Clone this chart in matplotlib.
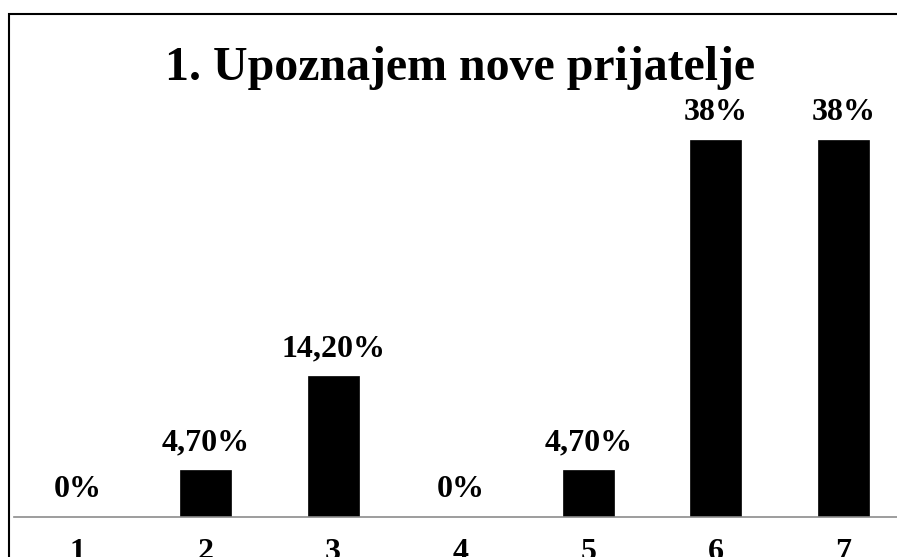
import matplotlib
matplotlib.use("Agg")
import matplotlib.pyplot as plt
from matplotlib.patches import Rectangle

categories = ["1", "2", "3", "4", "5", "6", "7"]
values = [0, 4.7, 14.2, 0, 4.7, 38, 38]
value_labels = ["0%", "4,70%", "14,20%", "0%", "4,70%", "38%", "38%"]
title = "1. Upoznajem nove prijatelje"

W, H = 897, 557
DPI = 100
plt.rcParams['font.family'] = ['Liberation Serif', 'DejaVu Serif']
plt.rcParams['font.weight'] = 'bold'

fig = plt.figure(figsize=(W / DPI, H / DPI), dpi=DPI)

# axes in pixel geometry
ax_left_px, ax_right_px = 14, 907.3
base_px = 517
ymax = 40
px_per_unit = (517 - 140) / 38.0
ax_top_px = base_px - ymax * px_per_unit
ax = fig.add_axes([ax_left_px / W, (H - base_px) / H,
                   (ax_right_px - ax_left_px) / W, (base_px - ax_top_px) / H])

x = list(range(len(categories)))
ax.bar(x, values, width=0.4, color='black', edgecolor='black', linewidth=0.5)
ax.set_xlim(-0.5, len(categories) - 0.5)
ax.set_ylim(0, ymax)

for xi, v, lab in zip(x, values, value_labels):
    ax.annotate(lab, xy=(xi, v), xytext=(0, 20), textcoords='offset pixels',
                ha='center', va='baseline', fontsize=23, fontweight='bold',
                annotation_clip=False)

for s in ['top', 'right', 'left']:
    ax.spines[s].set_visible(False)
ax.spines['bottom'].set_color('#8c8c8c')
ax.spines['bottom'].set_linewidth(1.2)
ax.set_yticks([])
ax.set_xticks(x)
ax.set_xticklabels(categories, fontsize=23, fontweight='bold')
ax.tick_params(axis='x', length=0, pad=15)

fig.text(460 / W, (H - 80) / H, title, ha='center', va='baseline',
         fontsize=34.5, fontweight='bold')

border = Rectangle((8.5 / W, -0.2), 1.2, (H - 13.5) / H + 0.2,
                   transform=fig.transFigure, fill=False, edgecolor='black',
                   linewidth=1.5, clip_on=False)
fig.patches.append(border)

fig.savefig("out.png", dpi=DPI)
